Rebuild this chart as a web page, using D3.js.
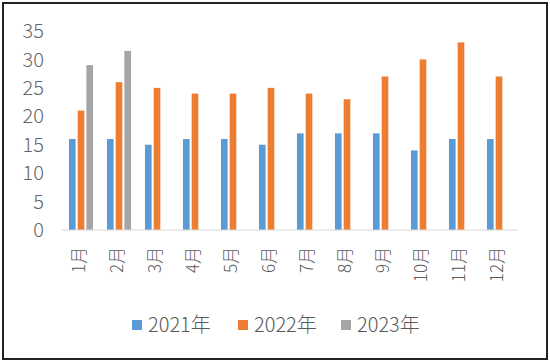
<!DOCTYPE html>
<html>
<head>
<meta charset="utf-8">
<script src="https://cdn.jsdelivr.net/npm/d3@7"></script>
<style>
  body { margin: 0; background: #fff; }
  svg { display: block; font-family: "Noto Sans CJK SC", "Noto Sans", sans-serif; }
</style>
</head>
<body>
<svg width="550" height="363"></svg>
<script>
// data
var months = ["1月","2月","3月","4月","5月","6月","7月","8月","9月","10月","11月","12月"];
var seriesNames = ["2021年","2022年","2023年"];
var colors = ["#5b9bd5","#ed7d31","#a5a5a5"];
var v2021 = [16, 16, 15, 16, 16, 15, 17, 17, 17, 14, 16, 16];
var v2022 = [21, 26, 25, 24, 24, 25, 24, 23, 27, 30, 33, 27];
var v2023 = [29, 31.5, null, null, null, null, null, null, null, null, null, null];
var yTicks = [0, 5, 10, 15, 20, 25, 30, 35];

var svg = d3.select("svg");

// frame
svg.append("rect")
    .attr("x", 3).attr("y", 3)
    .attr("width", 544).attr("height", 356)
    .attr("fill", "none")
    .attr("stroke", "#222")
    .attr("stroke-width", 2);

var plot = {left: 62, right: 518, top: 31, bottom: 230};

var x = d3.scaleBand()
    .domain(months)
    .range([plot.left, plot.right])
    .paddingInner(0)
    .paddingOuter(0);

var x1 = d3.scaleBand()
    .domain(d3.range(3))
    .range([0, x.bandwidth()])
    .paddingInner(0.235)
    .paddingOuter(0.8);

var y = d3.scaleLinear()
    .domain([0, 35])
    .range([plot.bottom, plot.top]);

// y labels
svg.append("g").selectAll("text")
    .data(yTicks)
    .enter().append("text")
    .attr("x", 44)
    .attr("y", function(d) { return y(d); })
    .attr("dy", "0.36em")
    .attr("text-anchor", "end")
    .attr("fill", "#666")
    .attr("font-size", 20)
    .attr("font-weight", 300)
    .text(function(d) { return d; });

// bars
var series = [v2021, v2022, v2023];
series.forEach(function(vals, si) {
    svg.append("g").selectAll("rect")
        .data(vals.map(function(v, i) { return {m: months[i], v: v}; })
                  .filter(function(d) { return d.v != null; }))
        .enter().append("rect")
        .attr("x", function(d) { return x(d.m) + x1(si); })
        .attr("y", function(d) { return y(d.v); })
        .attr("width", x1.bandwidth())
        .attr("height", function(d) { return y(0) - y(d.v); })
        .attr("fill", colors[si]);
});

// baseline
svg.append("line")
    .attr("x1", plot.left).attr("x2", plot.right)
    .attr("y1", y(0)).attr("y2", y(0))
    .attr("stroke", "#d9d9d9")
    .attr("stroke-width", 1);

// month labels (rotated)
svg.append("g").selectAll("text")
    .data(months)
    .enter().append("text")
    .attr("transform", function(d) {
        return "translate(" + (x(d) + x.bandwidth() / 2 - 2) + ",247) rotate(-90)";
    })
    .attr("dy", "0.36em")
    .attr("text-anchor", "end")
    .attr("fill", "#595959")
    .attr("font-size", 17)
    .attr("font-weight", 300)
    .text(function(d) { return d; });

// legend
var legendX = [132, 238, 341];
var legend = svg.append("g").selectAll("g")
    .data(seriesNames)
    .enter().append("g")
    .attr("transform", function(d, i) { return "translate(" + legendX[i] + ",325)"; });

legend.append("rect")
    .attr("x", 0).attr("y", -5)
    .attr("width", 10).attr("height", 10)
    .attr("fill", function(d, i) { return colors[i]; });

legend.append("text")
    .attr("x", 16)
    .attr("dy", "0.36em")
    .attr("fill", "#595959")
    .attr("font-size", 20)
    .attr("font-weight", 300)
    .text(function(d) { return d; });
</script>
</body>
</html>
